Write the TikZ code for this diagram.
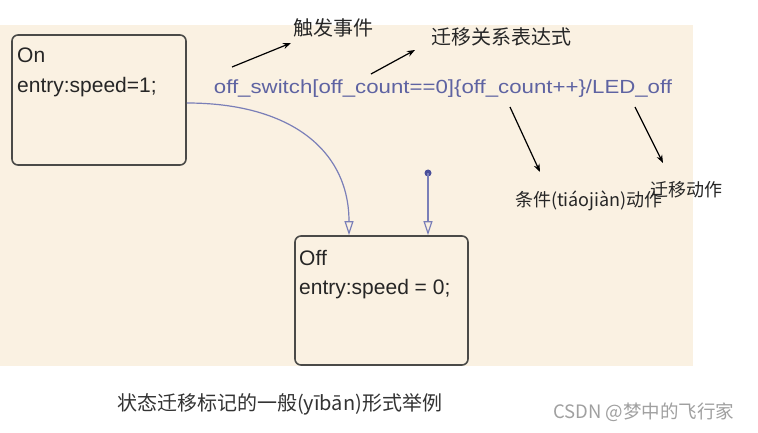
\documentclass[tikz,border=0pt]{standalone}
\usepackage{fontspec}
\setmainfont{Liberation Sans}
\newfontfamily\cjk{Noto Sans CJK SC}
\usetikzlibrary{arrows.meta}
\definecolor{bgbeige}{HTML}{FAF1E2}
\definecolor{boxline}{HTML}{4A4A48}
\definecolor{trline}{HTML}{7A7FB8}
\definecolor{trtext}{HTML}{5E63A2}
\definecolor{dotcol}{HTML}{4A4F9A}
\definecolor{captext}{HTML}{333333}
\definecolor{wmtext}{HTML}{A0A0A0}
\tikzset{
  statebox/.style={draw=boxline, line width=1.6pt, rounded corners=6pt, fill=none, inner sep=0pt},
  statetext/.style={anchor=base west, inner sep=0pt, font=\fontsize{21}{25}\selectfont, text=black!85},
  annot/.style={-{Stealth[length=8pt,width=6pt]}, line width=1.2pt, black},
  annotlabel/.style={inner sep=0pt, text=black!85},
  trans/.style={draw=trline, line width=1.2pt, -{Triangle[open,length=14pt,width=9pt]}},
}
\begin{document}
\begin{tikzpicture}[x=1pt,y=-1pt]
\useasboundingbox (0,0) rectangle (758,433);
\fill[white] (0,0) rectangle (758,433);
\fill[bgbeige] (0,25) rectangle (693,366);

% state boxes
\node[statebox, minimum width=174pt, minimum height=130pt] (On) at (99,100) {};
\node[statebox, minimum width=173pt, minimum height=129pt] (Off) at (381.5,300.5) {};
\node[statetext] (OnT) at (17,63) {On};
\node[statetext] (OnE) at (17,93) {entry:speed=1;};
\node[statetext] (OffT) at (299,265) {Off};
\node[statetext] (OffE) at (299,294) {entry:speed = 0;};

% transition label
\node[inner sep=0pt, text=trtext, font=\fontsize{19}{23}\selectfont] (lab) at (443,89)
  {\scalebox{1.17}[1]{off\_switch[off\_count==0]\{off\_count++\}/LED\_off}};

% transition On -> Off
\draw[trans] ([yshift=-3pt]On.east) .. controls (290,103) and (349,150) .. ([xshift=-32.5pt]Off.north);

% default transition
\node[circle, fill=dotcol, inner sep=0pt, minimum size=7pt] (dot) at (428,173) {};
\draw[trans] (dot.center) -- ([xshift=46.5pt]Off.north);

% annotation labels
\node[annotlabel, font=\cjk\fontsize{20}{24}\selectfont] (ev) at (333,28) {触发事件};
\node[annotlabel, font=\cjk\fontsize{20}{24}\selectfont] (expr) at (501,37) {迁移关系表达式};
\node[annotlabel, font=\cjk\fontsize{18}{22}\selectfont] (cond) at (589,201) {条件(tiáojiàn)动作};
\node[annotlabel, font=\cjk\fontsize{18}{22}\selectfont] (act) at (686,190) {迁移动作};

% annotation arrows
\coordinate (a1s) at (232,67);
\coordinate (a1e) at (291,43);
\coordinate (a2s) at (371,74);
\coordinate (a2e) at (415,50);
\coordinate (a3s) at (510,107);
\coordinate (a3e) at (540,172);
\coordinate (a4s) at (635,107);
\coordinate (a4e) at (663,163);
\draw[annot] (a1s) -- (a1e);
\draw[annot] (a2s) -- (a2e);
\draw[annot] (a3s) -- (a3e);
\draw[annot] (a4s) -- (a4e);

% caption and watermark
\node[inner sep=0pt, text=captext, font=\cjk\fontsize{20}{24}\selectfont, anchor=west] (cap) at (117,404) {状态迁移标记的一般(yībān)形式举例};
\node[inner sep=0pt, text=wmtext, font=\cjk\fontsize{18.5}{22}\selectfont, anchor=west] (wm) at (553,412) {CSDN @梦中的飞行家};
\end{tikzpicture}
\end{document}
